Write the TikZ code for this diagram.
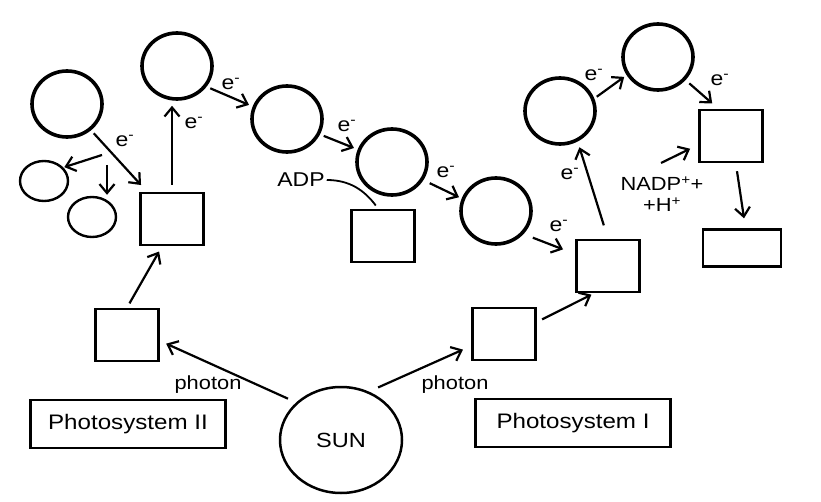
\documentclass[tikz,border=0pt]{standalone}
\usepackage{fontspec}
\setmainfont{Liberation Sans}[FakeStretch=1.15]
\usetikzlibrary{shapes,arrows.meta}

\begin{document}
\begin{tikzpicture}
  [x=1pt,y=1pt,line width=2.2pt,>={Straight Barb[length=9pt,width=15pt]},
   carrierN/.style={draw,ellipse,line width=3.6pt,minimum width=70pt,minimum height=66pt,inner sep=0pt},
   smallN/.style={draw,ellipse,line width=2.4pt,minimum width=48pt,minimum height=40pt,inner sep=0pt},
   boxN/.style={draw,rectangle,line width=2.6pt,minimum width=63pt,minimum height=52pt,inner sep=0pt},
   sunN/.style={draw,ellipse,line width=2.5pt,minimum width=122pt,minimum height=106pt,font=\fontsize{20.5}{24}\selectfont},
   psN/.style={draw,rectangle,line width=2.7pt,minimum width=195pt,minimum height=48pt,font=\fontsize{21}{24}\selectfont},
   eN/.style={inner sep=1pt,font=\fontsize{20}{22}\selectfont},
   photN/.style={inner sep=1pt,font=\fontsize{19}{21}\selectfont},
  ]
 \useasboundingbox (0,0) rectangle (821,501);

 \node[carrierN] (a) at (67,397) {};
 \node[smallN] (s1) at (44,320) {};
 \node[smallN] (s2) at (92,284) {};
 \node[boxN] (b1) at (172,282) {};
 \node[carrierN] (c) at (177,435) {};
 \node[carrierN] (d) at (287,382) {};
 \node[carrierN] (e) at (392,339) {};
 \node[boxN] (atp) at (383,265) {};
 \node[carrierN] (f) at (496,290) {};
 \node[boxN] (g) at (608,235) {};
 \node[carrierN] (h) at (560,390) {};
 \node[carrierN] (i) at (658,444) {};
 \node[boxN] (j) at (731,365) {};
 \node[boxN,minimum width=78pt,minimum height=37pt] (k) at (742,253) {};
 \node[boxN] (l) at (127,166) {};
 \node[boxN] (m) at (504,167) {};
 \node[sunN] (sun) at (341,61) {SUN};
 \node[psN] (ps2) at (128,77) {Photosystem II};
 \node[psN] (ps1) at (573,78) {Photosystem I};

 \node[eN] (eab) at (125,360) {e\textsuperscript{-}};
 \node[eN] (ebc) at (194,378) {e\textsuperscript{-}};
 \node[eN] (ecd) at (231,417) {e\textsuperscript{-}};
 \node[eN] (ede) at (347,375) {e\textsuperscript{-}};
 \node[eN] (eef) at (446,329) {e\textsuperscript{-}};
 \node[eN] (efg) at (559,275) {e\textsuperscript{-}};
 \node[eN] (egh) at (570,327) {e\textsuperscript{-}};
 \node[eN] (ehi) at (594,426) {e\textsuperscript{-}};
 \node[eN] (eij) at (720,421) {e\textsuperscript{-}};
 \node[eN] (adp) at (301,321) {ADP};
 \node[eN,align=center,font=\fontsize{19}{21}\selectfont] (nadp) at (662,307) {NADP\textsuperscript{+}+\\+H\textsuperscript{+}};
 \node[photN] (ph2) at (208,116) {photon};
 \node[photN] (ph1) at (455,116) {photon};

 \coordinate (kA) at (102,346);
 \coordinate (kB) at (107,336);
 \coordinate (nIn) at (661,338);

 \draw[->,shorten <=4pt,shorten >=9pt] (a) -- (b1);
 \draw[->,shorten >=1pt] (kA) -- (s1.35);
 \draw[->,shorten >=1pt] (kB) -- (kB |- s2.north);
 \draw[->,shorten <=7pt,shorten >=5pt] (b1.north) -- (b1.north |- c.south);
 \draw[->,shorten <=4pt,shorten >=4pt] (c.-35) -- (d.160);
 \draw[->,shorten <=4pt,shorten >=4pt] (d.-25) -- (e.160);
 \draw[->,shorten <=7pt,shorten >=3pt] (e.-30) -- (f.160);
 \draw[->,shorten <=10pt,shorten >=13pt] (f.-40) -- (g.160);
 \draw[->,shorten <=14pt,shorten >=6pt] (g.north) -- (h.-60);
 \draw[->,shorten <=3pt,shorten >=3pt] (h.20) -- (i.-150);
 \draw[->,shorten <=5pt,shorten >=8pt] (i.-40) -- (j.115);
 \draw[->,shorten >=9pt] (nIn) -- (j.195);
 \draw[->,shorten <=8pt,shorten >=10pt] (j.-80) -- (k.80);
 \draw[->,shorten <=5pt,shorten >=6pt] (l.north) -- (b1.250);
 \draw[->,shorten <=9pt,shorten >=7pt] (sun.140) -- (l.-10);
 \draw[->,shorten <=10pt,shorten >=9pt] (sun.60) -- (m.200);
 \draw[->,shorten <=6pt,shorten >=3pt] (m.20) -- (g.243);
 \draw[line width=1.8pt,shorten >=4pt] (adp.east) to[out=0,in=127] (atp.100);

\end{tikzpicture}
\end{document}
